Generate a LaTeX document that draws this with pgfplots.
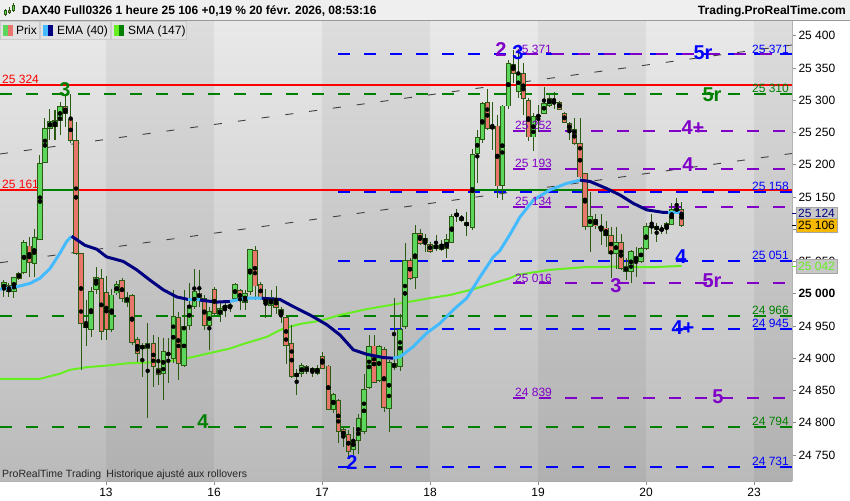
\documentclass[border=0pt]{standalone}
\usepackage{fontspec}
\setmainfont{Liberation Sans}
\usepackage{pgfplots}
\pgfplotsset{compat=1.18}
\usepackage{pgfplotstable}

\definecolor{bgtop}{HTML}{E9E9E9}
\definecolor{bgbot}{HTML}{BABABA}
\definecolor{candup}{HTML}{5CD65C}
\definecolor{canddn}{HTML}{E8766C}
\definecolor{wick}{HTML}{2B5A12}
\definecolor{lvlred}{HTML}{FF0000}
\definecolor{lvlgreen}{HTML}{008000}
\definecolor{lvlblue}{HTML}{0000FF}
\definecolor{lvlpurple}{HTML}{8000C8}
\definecolor{emadn}{HTML}{000080}
\definecolor{emaup}{HTML}{44BBFF}
\definecolor{sma}{HTML}{66EE22}
\definecolor{hdr}{HTML}{EFEFEF}
\definecolor{legbox}{HTML}{E2E2E2}

\newcommand\tk{\fontsize{12}{14}\selectfont}
\newcommand\wavefont{\fontsize{20}{20}\selectfont\bfseries}

% candles: x = bar position (px), o h l c = price
\pgfplotstableread{
x o h l c
4 25006 25021 24995 25018
14 25004 25026 24994 25025
19 25024 25034 25021 25031
24 25033 25083 25031 25079
34.3 25047 25101 25026 25087
40 25084 25215 25083 25202
45 25204 25272 25202 25256
50 25256 25287 25238 25267
55 25259 25285 25238 25269
60 25268 25297 25246 25291
91 24944 25010 24933 25004
96 25007 25041 25000 25025
111.7 24944 25007 24941 24998
116.7 25001 25019 24998 25014
127 24986 25003 24980 24995
147.7 24915 24954 24807 24923
163.3 24876 24931 24835 24911
173.3 24900 25006 24892 24965
184 24889 25006 24887 24949
189.3 24951 25016 24944 24982
194.3 24980 25039 24977 25003
209.3 24951 24980 24913 24972
220 24967 24985 24956 24977
225 24978 24988 24964 24981
230 24980 24987 24971 24981
235 24993 25016 24990 25014
245 24986 25006 24975 25001
250 25003 25068 24998 25068
271 24982 25006 24967 24995
296.7 24871 24884 24843 24877
301.7 24876 24892 24871 24889
312.3 24879 24887 24871 24884
333.3 24820 24846 24815 24844
353.3 24759 24794 24750 24773
358.3 24772 24814 24752 24807
364 24786 24876 24783 24851
369 24855 24936 24853 24918
379 24866 24920 24863 24918
389 24822 24897 24786 24894
400 24887 24969 24880 24944
405 24949 25078 24946 25052
415 25025 25106 25008 25093
425 25080 25093 25065 25086
446.7 25070 25093 25055 25084
451.7 25080 25124 25078 25119
456.7 25121 25132 25112 25124
472.3 25103 25225 25099 25216
477.3 25218 25254 25172 25242
482.3 25239 25297 25234 25295
492.3 25256 25297 25223 25260
502.3 25168 25292 25146 25291
508.3 25291 25362 25287 25357
518.3 25313 25380 25303 25341
533.3 25243 25280 25222 25275
538.3 25274 25292 25250 25277
544 25280 25320 25279 25295
549.3 25292 25308 25290 25303
554 25296 25313 25287 25297
590 25104 25158 25065 25120
616 25063 25104 25039 25080
631 25034 25068 25016 25065
636 25052 25073 25026 25057
641 25050 25073 25047 25070
646 25070 25109 25068 25104
661.7 25099 25106 25093 25100
666.7 25101 25111 25093 25109
671.7 25108 25140 25106 25130
}\upc

\pgfplotstableread{
x o h l c
9 25013 25016 24995 25003
29.3 25074 25088 25026 25048
65.3 25291 25306 25259 25279
70.7 25270 25310 25233 25238
76 25237 25266 25060 25062
81 25062 25063 24882 24954
86 24952 24990 24919 24948
101.3 25024 25038 24928 24941
106.3 25002 25028 24928 24944
122 25020 25025 24987 24993
132 24997 25000 24920 24925
137.3 24929 24933 24894 24908
142.3 24919 24923 24871 24915
153.3 24923 24936 24856 24887
158.3 24884 24933 24858 24875
168.3 24908 24931 24861 24905
178.3 24963 24972 24866 24892
199.3 25001 25037 24980 24993
204.3 24993 24998 24944 24951
214.3 25007 25010 24967 24969
240 25005 25008 24975 24990
255 25067 25074 24990 25012
260.7 25014 25018 24990 24995
265.7 24993 25007 24962 24985
276 24992 25012 24969 24979
281 24976 24979 24954 24967
286 24963 24967 24891 24920
291.7 24923 24951 24870 24871
306.7 24887 24889 24876 24879
317.3 24884 24889 24874 24876
322.3 24903 24910 24883 24884
328.3 24888 24889 24820 24821
338.3 24835 24836 24768 24786
343.3 24789 24794 24763 24779
348.3 24782 24789 24747 24755
374 24919 24936 24861 24863
384 24913 24918 24817 24824
394 24892 24993 24882 24886
410 25052 25055 25021 25024
420 25093 25101 25075 25078
430 25077 25080 25063 25066
436 25075 25091 25067 25070
441.7 25076 25083 25066 25068
461.7 25119 25122 25112 25114
466.7 25111 25127 25089 25105
487.3 25297 25317 25254 25256
497.3 25260 25277 25148 25167
513.3 25356 25378 25326 25342
523.3 25342 25357 25277 25303
528.3 25300 25303 25236 25243
559.3 25297 25299 25285 25286
564.3 25280 25282 25264 25265
569.3 25264 25266 25238 25254
574.3 25255 25272 25230 25233
580 25233 25272 25179 25181
585 25187 25187 25099 25104
595.7 25115 25124 25101 25105
601 25104 25124 25075 25101
606 25102 25112 25073 25091
611 25091 25104 25024 25063
621 25080 25093 25037 25039
626 25042 25055 25021 25034
651.7 25106 25124 25093 25103
656.7 25105 25109 25080 25099
676.7 25132 25148 25127 25129
681.7 25131 25142 25104 25106
}\dnc

\pgfplotsset{
  wicks/.style={only marks, mark=none, error bars/.cd, y dir=both, y explicit,
    error mark=none, error bar style={draw=wick, line width=1pt, solid}},
  bodyline/.style={only marks, mark=none, error bars/.cd, y dir=both, y explicit,
    error mark=none, error bar style={draw=wick, line width=5.2pt, solid}},
  bodyfill/.style={only marks, mark=none, error bars/.cd, y dir=both, y explicit,
    error mark=none, error bar style={draw=#1, line width=3.4pt, solid}},
  lvl/.style={#1, line width=2pt, dash pattern=on 12pt off 14pt},
}
\tikzset{
  bluelbl/.style={lvlblue, anchor=south east, font=\tk, inner sep=1pt},
  greenlbl/.style={lvlgreen, anchor=south east, font=\tk, inner sep=1pt},
  purplbl/.style={lvlpurple, anchor=south west, font=\tk, inner sep=1pt},
  tag/.style={anchor=west, draw=black!35, font=\tk, inner xsep=2pt, inner ysep=1pt, minimum height=14pt},
}

\begin{document}
\begin{tikzpicture}[x=1pt,y=1pt]
\path[use as bounding box] (0,-19) rectangle (850,481);

\begin{axis}[
  at={(0pt,0pt)}, anchor=south west,
  scale only axis, width=792pt, height=459.5pt,
  xmin=0, xmax=792, ymin=24709.6, ymax=25422,
  axis x line*=bottom, axis y line*=right,
  axis line style={draw=black!30, line width=0.8pt},
  tick align=outside, major tick length=4pt,
  tick style={draw=black!45, line width=0.6pt},
  xtick={106,214,322,430,538,646,754},
  xticklabels={13,16,17,18,19,20,23},
  ytick={24750,24800,...,25400},
  yticklabels={24 750,24 800,24 850,24 900,24 950,\textbf{25 000},25 050,25 100,25 150,25 200,25 250,25 300,25 350,25 400},
  ticklabel style={font=\tk, text=black},
  yticklabel style={anchor=west, xshift=-1pt},
  axis background/.style={top color=bgtop, bottom color=bgbot},
]
% day bands
\fill[black, opacity=0.05] (106,24700) rectangle (214,25430);
\fill[black, opacity=0.05] (322,24700) rectangle (430,25430);
\fill[black, opacity=0.05] (538,24700) rectangle (646,25430);
\fill[black, opacity=0.05] (754,24700) rectangle (792,25430);

% trend channel
\addplot[black!75, line width=0.9pt, dash pattern=on 8pt off 16pt] coordinates {(0,25216.6) (792,25385.6)};
\addplot[black!75, line width=0.9pt, dash pattern=on 8pt off 16pt] coordinates {(0,25048) (792,25217.4)};

% green levels
\addplot[lvl=lvlgreen] coordinates {(0,25310) (792,25310)};
\addplot[lvl=lvlgreen] coordinates {(0,24966) (792,24966)};
\addplot[lvl=lvlgreen] coordinates {(0,24794) (792,24794)};
% blue levels
\addplot[lvl=lvlblue] coordinates {(338,25371) (792,25371)};
\addplot[lvl=lvlblue] coordinates {(338,25158) (792,25158)};
\addplot[lvl=lvlblue] coordinates {(338,25051) (792,25051)};
\addplot[lvl=lvlblue] coordinates {(338,24945) (792,24945)};
\addplot[lvl=lvlblue] coordinates {(338,24731) (792,24731)};
% purple levels
\addplot[lvl=lvlpurple, dash phase=13pt] coordinates {(513,25371) (786,25371)};
\addplot[lvl=lvlpurple] coordinates {(513,25252) (786,25252)};
\addplot[lvl=lvlpurple] coordinates {(513,25193) (786,25193)};
\addplot[lvl=lvlpurple] coordinates {(513,25134) (786,25134)};
\addplot[lvl=lvlpurple] coordinates {(513,25016) (786,25016)};
\addplot[lvl=lvlpurple] coordinates {(513,24839) (786,24839)};
% red levels
\addplot[lvlred, line width=2pt] coordinates {(0,25324) (792,25324)};
\addplot[lvlred, line width=2pt] coordinates {(0,25161) (792,25161)};
\addplot[lvlgreen, line width=2pt] coordinates {(40,25161) (77,25161)};
\addplot[lvlgreen, line width=2pt] coordinates {(472,25161) (585,25161)};

% SMA 147
\addplot[sma, line width=2pt] coordinates {
(0,24868) (40,24868) (60,24876) (70,24882) (86.7,24886) (110,24889) (126.7,24892)
(143.3,24893) (160,24894) (176.7,24897) (193.3,24902) (210,24908) (230,24915)
(243.3,24922) (266.7,24933) (283.3,24946) (300,24953) (320,24958) (340,24967)
(366.7,24976) (400,24985) (433.3,24994) (450,24998) (473.3,25007) (510,25024)
(516.7,25029) (550,25037) (583.3,25041) (616.7,25042) (650,25041) (681.7,25043)};

% candles
\addplot[wicks] table[x=x, y expr={(\thisrow{h}+\thisrow{l})/2}, y error expr={(\thisrow{h}-\thisrow{l})/2}] \upc;
\addplot[wicks] table[x=x, y expr={(\thisrow{h}+\thisrow{l})/2}, y error expr={(\thisrow{h}-\thisrow{l})/2}] \dnc;
\addplot[bodyline] table[x=x, y expr={(\thisrow{o}+\thisrow{c})/2}, y error expr={abs(\thisrow{c}-\thisrow{o})/2+0.7}] \upc;
\addplot[bodyline] table[x=x, y expr={(\thisrow{o}+\thisrow{c})/2}, y error expr={abs(\thisrow{c}-\thisrow{o})/2+0.7}] \dnc;
\addplot[bodyfill=candup] table[x=x, y expr={(\thisrow{o}+\thisrow{c})/2}, y error expr={max(abs(\thisrow{c}-\thisrow{o})/2-0.7,0)}] \upc;
\addplot[bodyfill=canddn] table[x=x, y expr={(\thisrow{o}+\thisrow{c})/2}, y error expr={max(abs(\thisrow{c}-\thisrow{o})/2-0.7,0)}] \dnc;

% EMA 40, light blue rising, navy falling
\addplot[emaup, line width=3pt] coordinates {(0,25007) (10,25009) (20,25012) (30,25016) (40,25024) (50,25039) (60,25063) (66.7,25081) (71.7,25089)};
\addplot[emadn, line width=3pt] coordinates {(71.7,25089) (85,25075) (96.7,25069) (106.7,25057) (123.3,25050) (136.7,25037) (150,25021) (163.3,25006) (176.7,24995) (188.3,24991)};
\addplot[emaup, line width=3pt] coordinates {(188.3,24991) (200,24991)};
\addplot[emadn, line width=3pt] coordinates {(200,24990) (216.7,24987) (230,24988)};
\addplot[emaup, line width=3pt] coordinates {(230,24988) (245,24993) (261.7,24993)};
\addplot[emadn, line width=3pt] coordinates {(261.7,24993) (280,24991) (293.3,24980) (310,24967) (326.7,24952) (340,24936) (353.3,24913) (366.7,24906) (383.3,24901) (393.3,24900)};
\addplot[emaup, line width=3pt] coordinates {(393.3,24900) (400,24902) (413.3,24918) (426.7,24939) (440,24954) (453.3,24975) (466.7,24993) (480,25026) (493.3,25057) (500,25067) (510,25092) (520,25119) (533.3,25145) (550,25161) (566.7,25171) (580,25176)};
\addplot[emadn, line width=3pt] coordinates {(580,25176) (590,25174) (606.7,25163) (620,25153) (633.3,25140) (646.7,25130) (663.3,25126) (668,25126)};
\addplot[emaup, line width=3pt] coordinates {(668,25126) (680,25126)};
\addplot[emadn, line width=3pt] coordinates {(680,25126) (682,25124)};

% level value labels
\node[lvlred, anchor=south west, font=\tk, inner sep=1pt] at (1,25324) {25 324};
\node[lvlred, anchor=south west, font=\tk, inner sep=1pt] at (1,25161) {25 161};
\node[bluelbl] at (790,25371) {25 371};
\node[bluelbl] at (790,25158) {25 158};
\node[bluelbl] at (790,25051) {25 051};
\node[bluelbl] at (790,24945) {24 945};
\node[bluelbl] at (790,24731) {24 731};
\node[greenlbl] at (790,25310) {25 310};
\node[greenlbl] at (790,24966) {24 966};
\node[greenlbl] at (790,24794) {24 794};
\node[purplbl] at (514,25371) {25 371};
\node[purplbl] at (514,25252) {25 252};
\node[purplbl] at (514,25193) {25 193};
\node[purplbl] at (514,25134) {25 134};
\node[purplbl] at (514,25016) {25 016};
\node[purplbl] at (514,24839) {24 839};

% wave labels
\node[lvlpurple, font=\wavefont] at (501,25378) {2};
\node[lvlblue, font=\wavefont] at (518,25373) {3};
\node[lvlblue, font=\wavefont] at (703,25373) {5r};
\node[lvlgreen, font=\wavefont] at (712,25308) {5r};
\node[lvlgreen, font=\wavefont] at (65,25316) {3};
\node[lvlpurple, font=\wavefont] at (693,25258) {4+};
\node[lvlpurple, font=\wavefont] at (688,25200) {4};
\node[lvlblue, font=\wavefont] at (681,25058) {4};
\node[lvlpurple, font=\wavefont] at (712,25020) {5r};
\node[lvlpurple, font=\wavefont] at (616,25013) {3};
\node[lvlblue, font=\wavefont] at (683,24948) {4+};
\node[lvlpurple, font=\wavefont] at (718,24841) {5};
\node[lvlgreen, font=\wavefont] at (203,24801) {4};
\node[lvlblue, font=\wavefont] at (352,24738) {2};

\coordinate (ema) at (792,25124);
\coordinate (last) at (792,25106);
\coordinate (smav) at (792,25043);
\end{axis}

% right value tags
\draw[emadn, line width=0.8pt] (ema) -- ++(5,0);
\draw[black, line width=0.8pt] (last) -- ++(5,0);
\draw[sma, line width=0.8pt] (smav) -- ++(5,0);
\node[tag, fill=black!22, text=emadn] at ([xshift=4pt]ema) {25 124};
\node[tag, fill={rgb,255:red,247;green,186;blue,0}, text=black] at ([xshift=4pt]last) {25 106};
\node[tag, fill=black!22, text=sma] at ([xshift=4pt]smav) {25 042};

% bottom note
\node[anchor=west, font=\fontsize{10.5}{12}\selectfont, text=black!85, inner sep=0pt] at (2,6) {ProRealTime Trading\enspace Historique ajusté aux rollovers};

% header
\fill[hdr] (0,460) rectangle (850,481);
\draw[black!40, line width=0.8pt] (0,460.4) -- (850,460.4);
\node[anchor=base west, font=\fontsize{12}{14}\selectfont\bfseries, inner sep=0pt] at (22,466) {DAX40 Full0326 1 heure 25 106 +0,19 \% 20 févr. 2026, 08:53:16};
\node[anchor=base east, font=\fontsize{12}{14}\selectfont\bfseries, inner sep=0pt] at (846,466) {Trading.ProRealTime.com};
% header icon
\draw[wick, line width=0.8pt] (5.5,465) -- (5.5,472) (9.5,467) -- (9.5,474) (13.5,469) -- (13.5,478);
\fill[candup, draw=wick, line width=0.5pt] (4.5,466.5) rectangle (6.5,470.5);
\fill[canddn, draw=wick, line width=0.5pt] (8.5,469) rectangle (10.5,471);
\fill[candup, draw=wick, line width=0.5pt] (12.5,470.5) rectangle (14.5,476);

% legend row
\fill[legbox, draw=black!20] (0,442) rectangle (39,460);
\fill[legbox, draw=black!20] (40,442) rectangle (110,460);
\fill[legbox, draw=black!20] (111,442) rectangle (186,460);
\fill[candup] (3,445) rectangle (8,456);
\fill[canddn] (8,445) rectangle (13,456);
\fill[emaup] (43,445) rectangle (48,456);
\fill[emadn] (48,445) rectangle (53,456);
\fill[sma] (114,445) rectangle (119,456);
\fill[lvlgreen] (119,445) rectangle (124,456);
\node[anchor=base west, font=\tk, inner sep=0pt] at (16,446.5) {Prix};
\node[anchor=base west, font=\tk, inner sep=0pt] at (57,446.5) {EMA (40)};
\node[anchor=base west, font=\tk, inner sep=0pt] at (128,446.5) {SMA (147)};
\end{tikzpicture}
\end{document}
